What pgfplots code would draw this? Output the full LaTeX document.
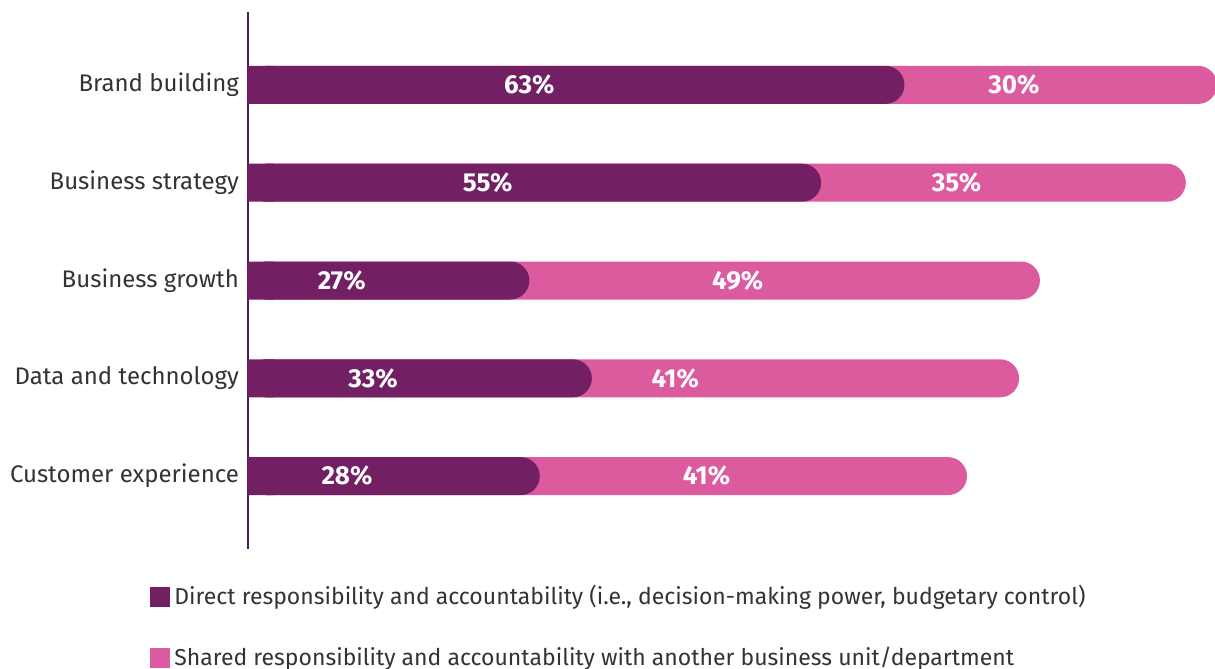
\documentclass[border=0pt]{standalone}
\usepackage{fontspec}
\setmainfont{Fira Sans}
\usepackage{pgfplots}
\pgfplotsset{compat=1.18}
\usepackage{pgfplotstable}

\definecolor{direct}{HTML}{722063}
\definecolor{shared}{HTML}{DC5A9E}
\definecolor{axisc}{HTML}{4B1A5E}
\definecolor{txt}{HTML}{333333}

% pos, direct, shared, total
\pgfplotstableread{
y d s t
0 63 30 93
1 55 35 90
2 27 49 76
3 33 41 74
4 28 41 69
}\datatab

% label positions (segment centre minus 4.5)
\pgfplotstableread{
x y lab
27.0 0 63\%
73.5 0 30\%
23.0 1 55\%
68.0 1 35\%
9.0 2 27\%
47.0 2 49\%
12.0 3 33\%
41.0 3 41\%
9.5 4 28\%
44.0 4 41\%
}\labtab

\begin{document}
\begin{tikzpicture}
\useasboundingbox (-124pt,-60pt) rectangle (483.5pt,274.5pt);
\begin{axis}[
  at={(0,0)}, anchor=south west,
  scale only axis,
  width=483.5pt, height=268.5pt,
  xmin=0, xmax=92.8,
  ymin=-0.745, ymax=4.745,
  y dir=reverse,
  axis x line=none,
  axis y line*=left,
  y axis line style={axisc, line width=0.75pt, -},
  ytick={0,1,2,3,4},
  yticklabels={Brand building, Business strategy, Business growth, Data and technology, Customer experience},
  yticklabel style={font=\fontsize{12}{14}\selectfont, text=txt, xshift=-1pt},
  major tick length=0pt,
  clip=false,
  bars/.style={xbar, bar width=19pt, bar shift=0pt, draw=none},
  legend style={at={(axis cs:0,4.745)}, anchor=north west, xshift=-49pt, yshift=-14pt,
    draw=none, fill=none, font=\fontsize{11.5}{13}\selectfont, text=txt,
    row sep=15.5pt, inner xsep=0pt},
  legend cell align=left,
  legend image code/.code={\fill[#1] (-2pt,-5pt) rectangle (8pt,5pt);},
]
\addplot[bars, fill=shared, rounded corners=9.5pt, forget plot] table[x=t, y=y] {\datatab};
\addplot[bars, fill=direct, rounded corners=9.5pt, forget plot] table[x=d, y=y] {\datatab};
\addplot[bars, fill=direct] table[x expr=2.5, y=y] {\datatab};
\addplot[bars, fill=shared] table[x expr=0, y=y] {\datatab};
\addplot[only marks, mark=*, mark size=0pt, draw opacity=0, fill opacity=0,
  nodes near coords, point meta=explicit symbolic,
  every node near coord/.style={anchor=center, text=white, text opacity=1, font=\fontsize{13}{15}\selectfont\bfseries}]
  table[x=x, y=y, meta=lab] {\labtab};
\legend{{Direct responsibility and accountability (i.e., decision-making power, budgetary control)}, {Shared responsibility and accountability with another business unit/department}}
\end{axis}
\end{tikzpicture}
\end{document}
